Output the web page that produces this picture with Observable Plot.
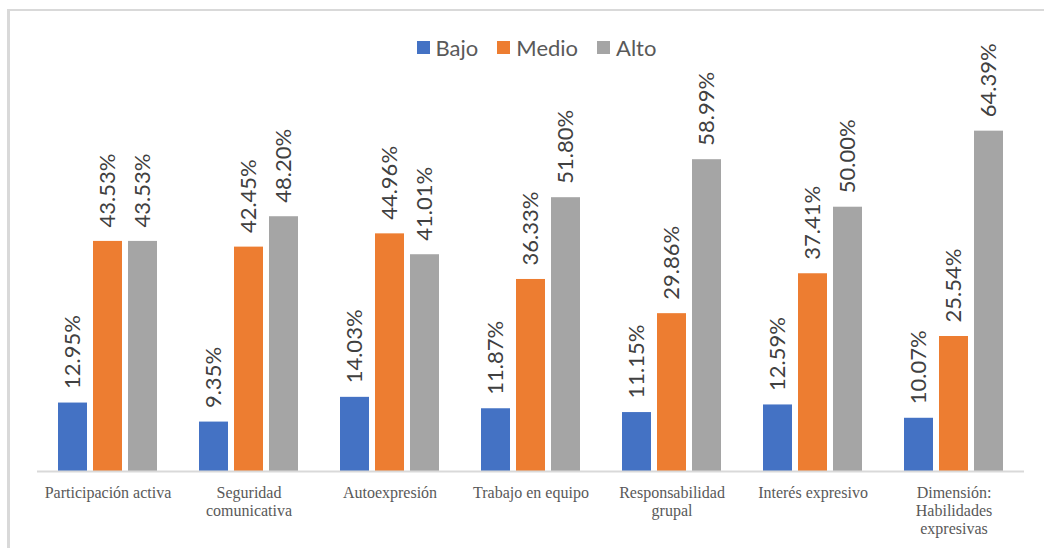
<!DOCTYPE html>
<html>
<head>
<meta charset="utf-8">
<script src="https://cdn.jsdelivr.net/npm/d3@7"></script>
<script src="https://cdn.jsdelivr.net/npm/@observablehq/plot@0.6"></script>
<style>
  html, body { margin: 0; padding: 0; background: #fff; }
  #wrap { position: relative; width: 1044px; height: 548px; overflow: hidden; }
  #frame { position: absolute; left: 7px; top: 9px; right: -10px; bottom: -10px;
           border-top: 2.5px solid #d9d9d9; border-left: 3px solid #d9d9d9; }
  #legend { position: absolute; top: 34px; left: 0; width: 1044px; display: flex; justify-content: center;
            font-family: Lato, "Open Sans", sans-serif; font-size: 22px; color: #595959; padding-left: 48px; box-sizing: border-box; }
  #legend .item { display: flex; align-items: center; margin-right: 19px; }
  #legend .sw { width: 13px; height: 13px; margin-right: 6px; display: inline-block; }
  #chart { position: absolute; left: 0; top: 0; }
</style>
</head>
<body>
<div id="wrap">
  <div id="frame"></div>
  <div id="chart"></div>
  <div id="legend"></div>
</div>
<script>
const categories = [
  "Participación activa",
  "Seguridad comunicativa",
  "Autoexpresión",
  "Trabajo en equipo",
  "Responsabilidad grupal",
  "Interés expresivo",
  "Dimensión: Habilidades expresivas"
];
const categoryLabels = [
  "Participación activa",
  "Seguridad\ncomunicativa",
  "Autoexpresión",
  "Trabajo en equipo",
  "Responsabilidad\ngrupal",
  "Interés expresivo",
  "Dimensión:\nHabilidades\nexpresivas"
];
const series = ["Bajo", "Medio", "Alto"];
const colors = ["#4472C4", "#ED7D31", "#A5A5A5"];
const bajo  = [12.95, 9.35, 14.03, 11.87, 11.15, 12.59, 10.07];
const medio = [43.53, 42.45, 44.96, 36.33, 29.86, 37.41, 25.54];
const alto  = [43.53, 48.20, 41.01, 51.80, 58.99, 50.00, 64.39];

const seriesValues = [bajo, medio, alto];
const rows = [];
categories.forEach((c, i) => {
  series.forEach((s, j) => rows.push({category: c, series: s, value: seriesValues[j][i]}));
});
const labelRows = categories.map((c, i) => ({category: c, label: categoryLabels[i]}));

const plot = Plot.plot({
  width: 1044,
  height: 548,
  marginLeft: 35,
  marginRight: 18,
  marginTop: 101,
  marginBottom: 77,
  style: {background: "transparent", overflow: "visible"},
  fx: {domain: categories, padding: 0, axis: null},
  x: {domain: series, paddingInner: 0.183, paddingOuter: 0.57, axis: null},
  y: {domain: [0, 70], axis: null},
  color: {domain: series, range: colors},
  marks: [
    Plot.barY(rows, {fx: "category", x: "series", y: "value", fill: "series"}),
    Plot.ruleY([0], {stroke: "#d9d9d9", strokeWidth: 2}),
    Plot.text(rows, {
      fx: "category", x: "series", y: "value",
      text: d => d.value.toFixed(2) + "%",
      rotate: -90, textAnchor: "start", dy: -14,
      fontSize: 22, fontFamily: "Lato, 'Open Sans', sans-serif", fill: "#404040"
    }),
    Plot.text(labelRows, {
      fx: "category", y: d => 0, text: "label",
      lineAnchor: "top", dy: 13, lineHeight: 1.15,
      fontSize: 16, fontFamily: "'Liberation Serif', serif", fill: "#595959"
    })
  ]
});
document.getElementById("chart").appendChild(plot);

const legend = document.getElementById("legend");
series.forEach((s, j) => {
  const item = document.createElement("span");
  item.className = "item";
  const sw = document.createElement("span");
  sw.className = "sw";
  sw.style.background = colors[j];
  item.appendChild(sw);
  item.appendChild(document.createTextNode(s));
  legend.appendChild(item);
});
</script>
</body>
</html>
